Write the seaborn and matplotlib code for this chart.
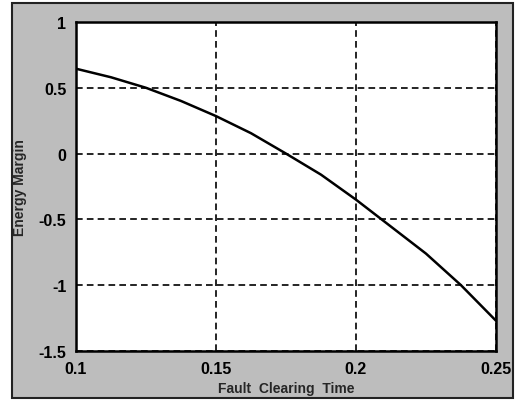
import numpy as np
import pandas as pd
import matplotlib
matplotlib.use("Agg")
import matplotlib.pyplot as plt
from matplotlib.patches import Rectangle
import seaborn as sns

# ── Data ────────────────────────────────────────────────────────────────────
fault_clearing_time = [0.1, 0.1125, 0.125, 0.1375, 0.15, 0.1625, 0.175,
                       0.1875, 0.2, 0.2125, 0.225, 0.2375, 0.25]
energy_margin = [0.645, 0.58, 0.50, 0.40, 0.285, 0.155, 0.0,
                 -0.16, -0.35, -0.555, -0.76, -1.0, -1.27]

x_ticks = [0.1, 0.15, 0.2, 0.25]
x_tick_labels = ["0.1", "0.15", "0.2", "0.25"]
y_ticks = [-1.5, -1, -0.5, 0, 0.5, 1]
y_tick_labels = ["-1.5", "-1", "-0.5", "0", "0.5", "1"]

BG_GREY = "#bdbdbd"

sns.set_style("white")
plt.rcParams["font.family"] = ["Liberation Sans", "DejaVu Sans"]

df = pd.DataFrame({"t": fault_clearing_time, "em": energy_margin})

fig = plt.figure(figsize=(5.18, 4.02), dpi=100, facecolor="white")
# grey MATLAB-style figure panel, kept behind the axes
panel = Rectangle((0.023, 0.0075), 0.967, 0.9826, transform=fig.transFigure,
                  facecolor=BG_GREY, edgecolor="#222222", linewidth=1.5, zorder=-10)
fig.add_artist(panel)

ax = fig.add_axes([0.1467, 0.1244, 0.8108, 0.8184])
ax.set_zorder(1)
ax.set_facecolor("white")

sns.lineplot(data=df, x="t", y="em", ax=ax, color="black", linewidth=1.8)

ax.set_xlim(0.1, 0.25)
ax.set_ylim(-1.5, 1)
ax.set_xticks(x_ticks)
ax.set_xticklabels(x_tick_labels)
ax.set_yticks(y_ticks)
ax.set_yticklabels(y_tick_labels)
ax.tick_params(axis="both", length=0, labelsize=11.5, pad=7, labelcolor="black")
for lab in ax.get_xticklabels() + ax.get_yticklabels():
    lab.set_fontweight("bold")

ax.grid(True, color="black", linestyle=(0, (4, 2.5)), linewidth=1.2)
for s in ax.spines.values():
    s.set_color("black")
    s.set_linewidth(1.8)

ax.set_xlabel("Fault  Clearing  Time", fontsize=10, fontweight="bold", labelpad=4)
ax.set_ylabel("Energy Margin", fontsize=10, fontweight="bold", labelpad=8)

fig.savefig("out.png", dpi=100, facecolor="white")
